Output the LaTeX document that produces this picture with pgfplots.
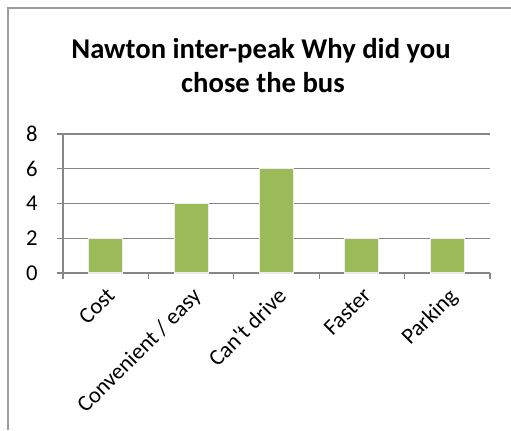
\documentclass[border=0pt]{standalone}
\usepackage{pgfplots}
\pgfplotsset{compat=1.18}
\usepackage{fontspec}
\setmainfont{Carlito}
\newfontfamily\carl{Carlito}
\definecolor{bargreen}{HTML}{9BBB59}
\definecolor{gridgray}{HTML}{868686}
\begin{document}
\begin{tikzpicture}[x=0.75pt,y=0.75pt]
\useasboundingbox (0,0) rectangle (511,430);
\draw[gridgray!80, line width=1.5pt] (8,0) -- (8,422) -- (511,422);
\node[font=\bfseries\fontsize{21.5}{25}\selectfont, anchor=base, inner sep=0pt] at (261,372) {Nawton inter-peak Why did you};
\node[font=\bfseries\fontsize{21.5}{25}\selectfont, anchor=base, inner sep=0pt] at (263,338) {chose the bus};
\begin{axis}[
  at={(47.25pt,117.75pt)}, anchor=south west,
  scale only axis, width=320.25pt, height=104.25pt,
  xmin=0, xmax=5, ymin=0, ymax=8,
  ytick={0,2,4,6,8},
  xtick={0,1,2,3,4,5}, xticklabels={},
  extra x ticks={0.5,1.5,2.5,3.5,4.5},
  extra x tick labels={Cost,Convenient / easy,Can't drive,Faster,Parking},
  extra x tick style={major tick length=0pt, grid=none},
  axis x line*=bottom, axis y line*=left,
  axis line style={gridgray, line width=1pt, -},
  ymajorgrids, grid style={gridgray, line width=1pt},
  major tick length=4.5pt, tick align=outside,
  tick style={gridgray, line width=1pt},
  /pgf/number format/assume math mode=true,
  ticklabel style={font=\carl\fontsize{17}{20}\selectfont, text=black},
  yticklabel style={xshift=-11pt},
  xticklabel style={rotate=45, anchor=north east, inner sep=1pt, yshift=-6pt, xshift=-6pt},
]
\addplot[ybar, bar width=25.5pt, fill=bargreen, draw=white!85!gray, line width=0.8pt]
  coordinates {(0.5,2) (1.5,4) (2.5,6) (3.5,2) (4.5,2)};
\end{axis}
\end{tikzpicture}
\end{document}
